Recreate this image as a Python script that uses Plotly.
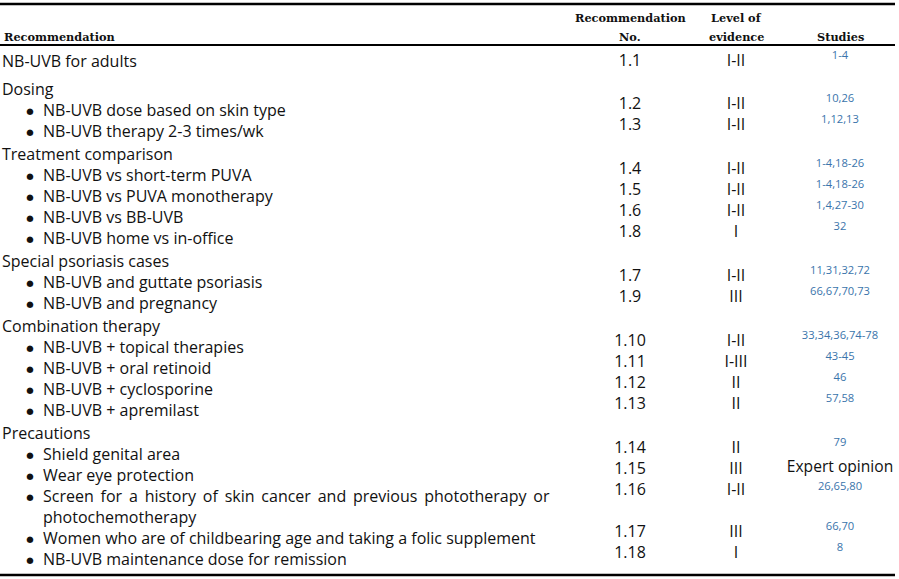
import plotly.graph_objects as go

# ---------------- data ----------------
row_labels = [
    "NB-UVB for adults",
    "Dosing",
    "NB-UVB dose based on skin type",
    "NB-UVB therapy 2-3 times/wk",
    "Treatment comparison",
    "NB-UVB vs short-term PUVA",
    "NB-UVB vs PUVA monotherapy",
    "NB-UVB vs BB-UVB",
    "NB-UVB home vs in-office",
    "Special psoriasis cases",
    "NB-UVB and guttate psoriasis",
    "NB-UVB and pregnancy",
    "Combination therapy",
    "NB-UVB + topical therapies",
    "NB-UVB + oral retinoid",
    "NB-UVB + cyclosporine",
    "NB-UVB + apremilast",
    "Precautions",
    "Shield genital area",
    "Wear eye protection",
    "Screen for a history of skin cancer and previous phototherapy or",
    "photochemotherapy",
    "Women who are of childbearing age and taking a folic supplement",
    "NB-UVB maintenance dose for remission",
]
row_kinds = [
    "top", "head", "bullet", "bullet", "head", "bullet", "bullet", "bullet",
    "bullet", "head", "bullet", "bullet", "head", "bullet", "bullet", "bullet",
    "bullet", "head", "bullet", "bullet", "justified", "cont", "bullet", "bullet",
]
rec_numbers = ["1.1", "1.2", "1.3", "1.4", "1.5", "1.6", "1.8", "1.7", "1.9",
               "1.10", "1.11", "1.12", "1.13", "1.14", "1.15", "1.16", "1.17", "1.18"]
rec_row_index = [0, 2, 3, 5, 6, 7, 8, 10, 11, 13, 14, 15, 16, 18, 19, 20, 22, 23]
evidence_levels = ["I-II", "I-II", "I-II", "I-II", "I-II", "I-II", "I", "I-II", "III",
                   "I-II", "I-III", "II", "II", "II", "III", "I-II", "III", "I"]
studies = ["1-4", "10,26", "1,12,13", "1-4,18-26", "1-4,18-26", "1,4,27-30", "32",
           "11,31,32,72", "66,67,70,73", "33,34,36,74-78", "43-45", "46", "57,58",
           "79", "Expert opinion", "26,65,80", "66,70", "8"]
header_rec = "Recommendation"
header_cols = [["Recommendation", "No."], ["Level of", "evidence"], ["Studies"]]

# ---------------- layout helpers ----------------
W, H = 899, 579
BODY_FONT = "Open Sans"
BODY_SIZE = 16
BLACK = "#111111"
BLUE = "#3a74ab"

# vertical positions of text rows
row_y = []
y = 62.5
for i, k in enumerate(row_kinds):
    if i > 0:
        if i == 1:
            y += 28
        elif k == "head":
            y += 23
        else:
            y += 21
    row_y.append(y)

col_no_x, col_ev_x, col_st_x = 630, 736, 840

fig = go.Figure()

# left column text
lx, ly, lt = [], [], []
bx, by = [], []
for lab, k, yy in zip(row_labels, row_kinds, row_y):
    lx.append(2 if k in ("top", "head") else 43)
    ly.append(yy)
    if k == "justified":
        lab = lab.replace(" ", " \u2009")
    lt.append(lab)
    if k in ("bullet", "justified"):
        bx.append(30)
        by.append(yy)

fig.add_trace(go.Scatter(x=lx, y=ly, text=lt, mode="text", textposition="middle right",
                         textfont=dict(family=BODY_FONT, size=BODY_SIZE, color=BLACK),
                         hoverinfo="skip", showlegend=False))
fig.add_trace(go.Scatter(x=bx, y=by, text=["\u25CF"] * len(bx), mode="text",
                         textposition="middle center",
                         textfont=dict(family="DejaVu Sans", size=8.5, color=BLACK),
                         hoverinfo="skip", showlegend=False))

# recommendation number / evidence columns
rec_y = []
for r in rec_row_index:
    off = -1 if r == 0 else -7
    rec_y.append(row_y[r] + off)

fig.add_trace(go.Scatter(x=[col_no_x] * len(rec_numbers), y=rec_y, text=rec_numbers,
                         mode="text", textposition="middle center",
                         textfont=dict(family=BODY_FONT, size=BODY_SIZE, color=BLACK),
                         hoverinfo="skip", showlegend=False))
fig.add_trace(go.Scatter(x=[col_ev_x] * len(evidence_levels), y=rec_y, text=evidence_levels,
                         mode="text", textposition="middle center",
                         textfont=dict(family=BODY_FONT, size=BODY_SIZE, color=BLACK),
                         hoverinfo="skip", showlegend=False))

# studies column
st_y, st_size, st_col = [], [], []
prev_plain = False
for s, yy in zip(studies, rec_y):
    if s[0].isdigit():
        st_y.append(yy - 5.5 + (2.0 if prev_plain else 0.0))
        st_size.append(11.2)
        st_col.append(BLUE)
        prev_plain = False
    else:
        st_y.append(yy - 1.5)
        st_size.append(15.6)
        st_col.append(BLACK)
        prev_plain = True
fig.add_trace(go.Scatter(x=[col_st_x] * len(studies), y=st_y, text=studies,
                         mode="text", textposition="middle center",
                         textfont=dict(family=BODY_FONT, size=st_size, color=st_col),
                         hoverinfo="skip", showlegend=False))

# headers
HEAD_FONT = dict(family="DejaVu Serif", size=11.3, color=BLACK)
fig.add_annotation(x=2, y=36.5, text="<b>" + header_rec + "</b>", showarrow=False,
                   xanchor="left", yanchor="middle", font=HEAD_FONT)
for cx, lines in zip([col_no_x, col_ev_x, col_st_x], header_cols):
    for j, t in enumerate(reversed(lines)):
        fig.add_annotation(x=cx, y=36.5 - 19 * j, text="<b>" + t + "</b>", showarrow=False,
                           xanchor="center", yanchor="middle", font=HEAD_FONT)

# rules
for yy, w in [(4, 2.5), (45, 2.2), (575, 2.5)]:
    fig.add_shape(type="line", x0=0, x1=895, y0=yy, y1=yy,
                  line=dict(color="black", width=w))

fig.update_layout(
    width=W, height=H, margin=dict(l=0, r=0, t=0, b=0),
    paper_bgcolor="white", plot_bgcolor="white",
    xaxis=dict(range=[0, W], visible=False, fixedrange=True),
    yaxis=dict(range=[H, 0], visible=False, fixedrange=True),
)

fig.write_html("out.html", config={"displayModeBar": False},
               post_script="document.body.style.margin='0';document.body.style.overflow='hidden';")
